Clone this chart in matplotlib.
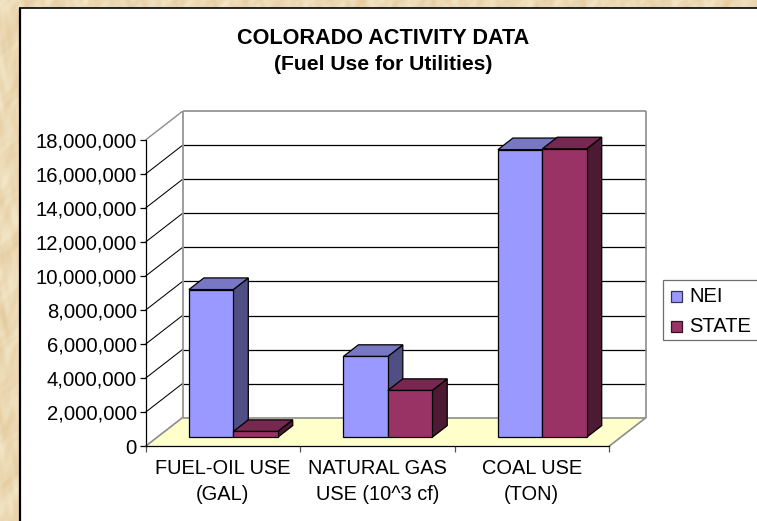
import numpy as np
import matplotlib
matplotlib.use("Agg")
import matplotlib.pyplot as plt
from matplotlib.patches import Polygon, Rectangle
from matplotlib.transforms import IdentityTransform
from matplotlib.ticker import FuncFormatter

plt.rcParams['font.family'] = ['Liberation Sans', 'DejaVu Sans']

# Activity data
categories = ["FUEL-OIL USE\n(GAL)", "NATURAL GAS\nUSE (10^3 cf)", "COAL USE\n(TON)"]
nei_values = [8680000, 4750000, 16900000]
state_values = [340000, 2750000, 16950000]
value_ticks = list(range(0, 18000001, 2000000))

W, H = 757, 521
fig = plt.figure(figsize=(W / 100, H / 100), dpi=100)

# Parchment backdrop with a soft mottled grain built from overlapping waves
bg = fig.add_axes([0, 0, 1, 1], zorder=0)
bg.set_xlim(0, W)
bg.set_ylim(H, 0)
bg.axis("off")
yy, xx = np.mgrid[0:H, 0:W]
grain = (np.sin(xx * 0.17 + yy * 0.037 + np.sin(yy * 0.051) * 2.3)
         + np.sin(xx * 0.083 - yy * 0.113 + 1.3 + np.sin(xx * 0.29) * 1.7)
         + 0.8 * np.sin(yy * 0.19 - xx * 0.061 + np.sin(xx * 0.37 + yy * 0.023) * 1.9)
         + 0.5 * np.sin(xx * 0.53 + yy * 0.29 + np.sin(yy * 0.13) * 3.1))
grain = (grain - grain.min()) / (grain.max() - grain.min())
light = np.array([0.955, 0.905, 0.78])
dark = np.array([0.895, 0.80, 0.635])
bg.imshow(dark + (light - dark) * grain[..., None], extent=(0, W, H, 0), aspect="auto",
          interpolation="bilinear")
bg.add_patch(Rectangle((19, 8), W - 19, H - 8, fc="white", ec="none"))
bg.plot([19.5, 19.5], [8, H], color="black", lw=1.6, solid_capstyle="butt")
bg.plot([19, W], [8, 8], color="black", lw=1.2, solid_capstyle="butt")

# Front plane of the 3-D box; depth is added as a pixel offset
ax = fig.add_axes([145.5 / W, 1 - 446.3 / H, (609 - 145.5) / W, (446.3 - 140) / H], zorder=1)
ax.patch.set_visible(False)
ax.set_xlim(0, 3)
ax.set_ylim(0, 18000000)
for side in ("top", "right"):
    ax.spines[side].set_visible(False)
for side in ("left", "bottom"):
    ax.spines[side].set_linewidth(0.9)
ax.set_yticks(value_ticks)
ax.yaxis.set_major_formatter(FuncFormatter(lambda v, _: f"{int(v):,}"))
ax.tick_params(axis="y", labelsize=14.6, length=4, width=0.9, pad=2.2)
ax.set_xticks(range(4))
ax.set_xticklabels([])
ax.set_xticks([0.5, 1.5, 2.5], labels=categories, minor=True)
ax.tick_params(axis="x", which="major", length=4, width=0.9, color="#555555")
ax.tick_params(axis="x", which="minor", length=0, labelsize=14.4, pad=9.5)
for lab in ax.get_xticklabels(minor=True):
    lab.set_linespacing(1.42)

DX, DY = 37.0, 28.7


def proj(x, v, d):
    px = ax.transData.transform((x, v))
    return (px[0] + d * DX, px[1] + d * DY)


def face(points, color, z, edge="black"):
    ax.add_patch(Polygon(points, closed=True, fc=color, ec=edge, lw=0.9,
                         transform=IdentityTransform(), clip_on=False, zorder=z,
                         joinstyle="miter"))


def seg(a, b, color, z, lw=0.9):
    ax.plot([a[0], b[0]], [a[1], b[1]], color=color, lw=lw, transform=IdentityTransform(),
            clip_on=False, zorder=z, solid_capstyle="butt")


# Floor, walls and gridlines
grey = "#8c8c8c"
face([proj(0, 0, 0), proj(3, 0, 0), proj(3, 0, 1), proj(0, 0, 1)], "#FFFFCC", 1, edge="none")
for v in value_ticks[1:-1]:
    seg(proj(0, v, 0), proj(0, v, 1), "black", 1.5, lw=0.75)
    seg(proj(0, v, 1), proj(3, v, 1), "black", 1.5)
top = value_ticks[-1]
seg(proj(0, top, 0), proj(0, top, 1), grey, 2, lw=1.0)
seg(proj(0, top, 1), proj(3, top, 1), grey, 2, lw=1.2)
seg(proj(0, 0, 1), proj(0, top, 1), grey, 2, lw=1.2)
seg(proj(3, 0, 1), proj(3, top, 1), grey, 2, lw=1.2)
seg(proj(0, 0, 1), proj(3, 0, 1), grey, 2, lw=1.2)
seg(proj(0, 0, 0), proj(0, 0, 1), grey, 2, lw=1.2)
seg(proj(3, 0, 0), proj(3, 0, 1), grey, 2, lw=1.2)

# Bars as three visible faces each
BAR_W = 0.2875
GROUP_START = 0.2055
D0, D1 = 0.315, 0.72
z = 3.0
series_styles = [(nei_values, "#9999FF", "#7777C4", "#4F4F85"),
                 (state_values, "#993366", "#772850", "#4D1A33")]
for i in range(len(categories)):
    for s, (vals, front, lid, flank) in enumerate(series_styles):
        x0 = i + GROUP_START + s * BAR_W
        x1 = x0 + BAR_W
        v = vals[i]
        face([proj(x1, 0, D0), proj(x1, 0, D1), proj(x1, v, D1), proj(x1, v, D0)], flank, z)
        face([proj(x0, v, D0), proj(x1, v, D0), proj(x1, v, D1), proj(x0, v, D1)], lid, z + 0.1)
        face([proj(x0, 0, D0), proj(x1, 0, D0), proj(x1, v, D0), proj(x0, v, D0)], front, z + 0.2)
        z += 1

# Title
fig.text(383 / W, 1 - 38.5 / H, "COLORADO ACTIVITY DATA", fontsize=15.6, fontweight="bold",
         ha="center", va="center")
fig.text(383 / W, 1 - 64.5 / H, "(Fuel Use for Utilities)", fontsize=15.2, fontweight="bold",
         ha="center", va="center")

# Legend box runs off the right edge
bg.add_patch(Rectangle((663, 280), 110, 60, fc="white", ec="#6e6e6e", lw=0.9))
for y, (label, color, edge) in zip((296.5, 326.5), (("NEI", "#9999FF", "#333355"),
                                                    ("STATE", "#993366", "#331122"))):
    bg.add_patch(Rectangle((671, y - 5.5), 11, 11, fc=color, ec=edge, lw=0.9))
    bg.text(689, y, label, fontsize=14.5, ha="left", va="center")

fig.savefig("out.png", dpi=100)
